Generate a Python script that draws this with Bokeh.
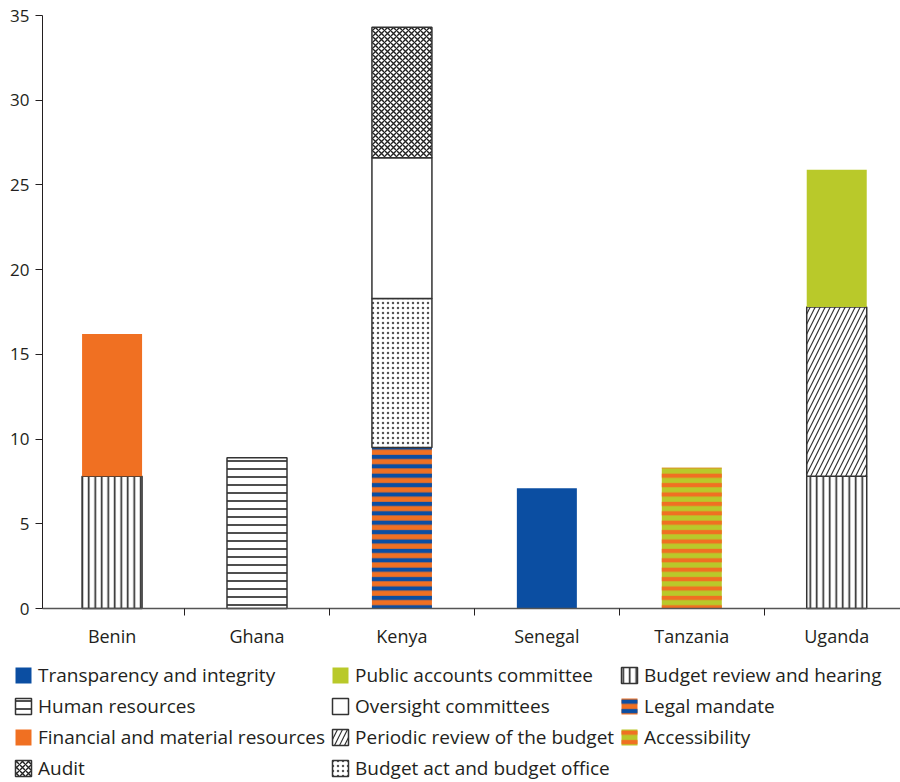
import numpy as np
from bokeh.plotting import figure
from bokeh.models import Legend, LegendItem, FixedTicker, Range1d
from bokeh.embed import file_html
from bokeh.resources import INLINE

countries = ["Benin", "Ghana", "Kenya", "Senegal", "Tanzania", "Uganda"]
y_ticks = [0, 5, 10, 15, 20, 25, 30, 35]

# values per country (stacking order bottom -> top)
budget_review = [7.8, 0, 0, 0, 0, 7.8]
legal_mandate = [0, 0, 9.5, 0, 0, 0]
human_resources = [0, 8.9, 0, 0, 0, 0]
transparency = [0, 0, 0, 7.1, 0, 0]
accessibility = [0, 0, 0, 0, 8.3, 0]
financial = [8.4, 0, 0, 0, 0, 0]
budget_act = [0, 0, 8.8, 0, 0, 0]
periodic_review = [0, 0, 0, 0, 0, 10.0]
oversight = [0, 0, 8.3, 0, 0, 0]
public_accounts = [0, 0, 0, 0, 0, 8.1]
audit = [0, 0, 7.7, 0, 0, 0]

BLUE = "#0b4ea2"
ORANGE = "#f07022"
LIME = "#b9c92a"
INK = "#231f20"
EDGE = "#333333"

outl = dict(line_color=EDGE, line_width=1.5)
nol = dict(line_color=None)

stack = [
    ("Budget review and hearing", budget_review,
     dict(fill_color="white", hatch_pattern="vertical_line", hatch_color="#222222", hatch_scale=6.5, hatch_weight=1.6, **outl)),
    ("Legal mandate", legal_mandate,
     dict(fill_color=ORANGE, hatch_pattern="horizontal_line", hatch_color=BLUE, hatch_scale=9.4, hatch_weight=4.2, **nol)),
    ("Human resources", human_resources,
     dict(fill_color="white", hatch_pattern="horizontal_line", hatch_color="#222222", hatch_scale=8.0, hatch_weight=1.6, **outl)),
    ("Transparency and integrity", transparency,
     dict(fill_color=BLUE, **nol)),
    ("Accessibility", accessibility,
     dict(fill_color=LIME, hatch_pattern="horizontal_line", hatch_color=ORANGE, hatch_scale=9.4, hatch_weight=4.2, **nol)),
    ("Financial and material resources", financial,
     dict(fill_color=ORANGE, **nol)),
    ("Budget act and budget office", budget_act,
     dict(fill_color="white", hatch_pattern="dot", hatch_color="#555555", hatch_scale=5, hatch_weight=1.2, **outl)),
    ("Periodic review of the budget", periodic_review,
     dict(fill_color="white", hatch_pattern="right_diagonal_line", hatch_color="#333333", hatch_scale=10, hatch_weight=1.2, **outl)),
    ("Oversight committees", oversight,
     dict(fill_color="white", **outl)),
    ("Public accounts committee", public_accounts,
     dict(fill_color=LIME, **nol)),
    ("Audit", audit,
     dict(fill_color="white", hatch_pattern="diagonal_cross", hatch_color="#222222", hatch_scale=6, hatch_weight=1.4, **outl)),
]

legend_order = [
    "Transparency and integrity", "Human resources", "Financial and material resources", "Audit",
    "Public accounts committee", "Oversight committees", "Periodic review of the budget", "Budget act and budget office",
    "Budget review and hearing", "Legal mandate", "Accessibility",
]

FONT = "Open Sans"

# whole canvas is the frame; axes are pinned inside it with fixed_location
X_LEFT, X_RIGHT = -0.48, 5.44          # plot area (axis at 42px .. 900px)
PX_X = (X_RIGHT - X_LEFT) / 858.0
PX_Y = 35.0 / 593.0
p = figure(width=900, height=782, output_backend="svg", toolbar_location=None,
           x_range=Range1d(X_LEFT - 42 * PX_X, X_RIGHT),
           y_range=Range1d(0 - 174 * PX_Y, 35 + 15 * PX_Y),
           min_border_left=0, min_border_right=0, min_border_top=0, min_border_bottom=0)
p.outline_line_color = None
p.xgrid.visible = False
p.ygrid.visible = False
p.background_fill_color = "white"
p.border_fill_color = "white"

idx = np.arange(len(countries), dtype=float)
bottom = np.zeros(len(countries))
renderers = {}
for name, vals, style in stack:
    v = np.array(vals, dtype=float)
    top = bottom + v
    m = v > 0
    renderers[name] = p.vbar(x=idx[m], bottom=bottom[m], top=top[m], width=0.414, **style)
    bottom = top

# axes
p.yaxis.fixed_location = X_LEFT
p.yaxis.bounds = (0, 35)
p.yaxis.ticker = FixedTicker(ticks=y_ticks)
p.yaxis.minor_tick_line_color = None
p.yaxis.major_tick_out = 7
p.yaxis.major_tick_in = 0
p.yaxis.axis_line_color = INK
p.yaxis.major_tick_line_color = INK
p.yaxis.major_label_text_font = FONT
p.yaxis.major_label_text_font_size = "17px"
p.yaxis.major_label_text_color = INK
p.yaxis.major_label_standoff = 6

p.xaxis.fixed_location = 0
p.xaxis.bounds = (X_LEFT, X_RIGHT)
p.xaxis.ticker = FixedTicker(ticks=list(idx), minor_ticks=[i + 0.5 for i in range(len(countries) - 1)])
p.xaxis.major_label_overrides = {int(i): c for i, c in enumerate(countries)}
p.xaxis.major_tick_out = 0
p.xaxis.major_tick_in = 0
p.xaxis.minor_tick_out = 7
p.xaxis.minor_tick_in = 0
p.xaxis.minor_tick_line_color = INK
p.xaxis.axis_line_color = "#555555"
p.xaxis.axis_line_width = 1.5
p.xaxis.major_label_text_font = FONT
p.xaxis.major_label_text_font_size = "18px"
p.xaxis.major_label_text_color = INK
p.xaxis.major_label_standoff = 8

items = [LegendItem(label=n, renderers=[renderers[n]]) for n in legend_order]
leg = Legend(items=items, ncols=3, location=(13, 1),
             label_text_font=FONT, label_text_font_size="19px", label_text_color=INK,
             glyph_width=20, glyph_height=20, label_standoff=5, spacing=5,
             padding=0, margin=0, border_line_color=None, background_fill_alpha=0)
p.add_layout(leg, "center")

open("out.html", "w").write(file_html(p, INLINE))
